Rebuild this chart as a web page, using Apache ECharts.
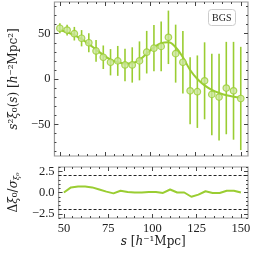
<!DOCTYPE html>
<html><head><meta charset="utf-8">
<script src="https://cdn.jsdelivr.net/npm/echarts@6/dist/echarts.min.js"></script>
<style>html,body{margin:0;padding:0;background:#fff}#c{width:253px;height:253px}</style>
</head><body><div id="c"></div>
<script>
// separation s [h^-1 Mpc]
const sValues = [50,54,58,62,66,70,74,78,82,86,90,94,98,102,106,110,114,118,122,126,130,134,138,142,146,150];
// measured s^2 xi_0
const xiData = [56,54,50,45,40,31,24,18.5,20,15.5,15.5,20,29.6,34,36,46,28,18.5,-13,-14,-2,-17,-20,-10,-13,-21.5];
// 1-sigma errors
const xiErr = [5.5,6,7.5,9,10.5,12,13,14.5,16.5,18,19.5,21.5,23.5,25.5,27.5,29.5,32,34.5,37,40,42.5,45,48,51,54,57];
// best-fit model
const xiModel = [54,51.5,48.5,44,38.5,32.5,26.5,21.5,18.5,17,17.5,21,28,35,39.5,40.5,35,24,10,0,-7,-12,-15.5,-18,-19.5,-20.5];
// residual (data-model)/sigma
const resid = [0.0,0.6,0.7,0.7,0.6,0.35,0.1,-0.1,0.2,0.05,0.0,0.0,0.05,0.05,-0.05,0.35,0.0,0.0,-0.5,-0.25,0.15,-0.05,-0.05,0.2,0.2,0.0];
// tick labels
const xTicks = [50,75,100,125,150];
const xMinor = [50,55,60,65,70,75,80,85,90,95,100,105,110,115,120,125,130,135,140,145,150];
const yTopTicks = [-50,0,50];
const yTopMinor = [-80,-70,-60,-50,-40,-30,-20,-10,0,10,20,30,40,50,60,70,80];
const yBotTicks = [-2.5,0,2.5];
const yBotMinor = [-3,-2.5,-2,-1.5,-1,-0.5,0,0.5,1,1.5,2,2.5,3];
const dashLevels = [2,-2];

const green = '#9acd32';
const FONT = 'Liberation Serif';
const TFONT = 'DejaVu Serif';
const X_MIN = 47, X_MAX = 154;
const noLine = {show:false, onZero:false};

function xAxesFor(grid, labels) {
  const base = {type:'value', gridIndex:grid, min:X_MIN, max:X_MAX, splitLine:{show:false}, axisLine:noLine};
  const lab = {show:labels, customValues:xTicks, margin:4, color:'#222', fontFamily:FONT, fontSize:12.5};
  return [
    Object.assign({}, base, {position:'bottom', axisTick:{inside:true, length:4, customValues:xTicks, lineStyle:{color:'#444'}}, axisLabel:lab,
      name: labels ? '{i|s} [{i|h}⁻¹Mpc]' : '', nameLocation:'middle', nameGap:17,
      nameTextStyle:{fontFamily:TFONT, fontSize:12, color:'#222', rich:{i:{fontStyle:'italic', fontFamily:TFONT, fontSize:12, color:'#222'}}}}),
    Object.assign({}, base, {position:'bottom', axisTick:{inside:true, length:2, customValues:xMinor, lineStyle:{color:'#444'}}, axisLabel:{show:false}}),
    Object.assign({}, base, {position:'top', axisTick:{inside:true, length:4, customValues:xTicks, lineStyle:{color:'#444'}}, axisLabel:{show:false}}),
    Object.assign({}, base, {position:'top', axisTick:{inside:true, length:2, customValues:xMinor, lineStyle:{color:'#444'}}, axisLabel:{show:false}})
  ];
}
function yAxesFor(grid, min, max, major, minor, fmt, name, rich) {
  const base = {type:'value', gridIndex:grid, min:min, max:max, splitLine:{show:false}, axisLine:noLine};
  return [
    Object.assign({}, base, {position:'left', axisTick:{inside:true, length:4, customValues:major, lineStyle:{color:'#444'}},
      axisLabel:{customValues:major, margin:4, color:'#222', fontFamily:FONT, fontSize:12.5, formatter:fmt},
      name:name, nameLocation:'middle', nameGap:27, nameRotate:90,
      nameTextStyle:{fontFamily:TFONT, fontSize:12, color:'#222', rich:rich}}),
    Object.assign({}, base, {position:'left', axisTick:{inside:true, length:2, customValues:minor, lineStyle:{color:'#444'}}, axisLabel:{show:false}}),
    Object.assign({}, base, {position:'right', axisTick:{inside:true, length:4, customValues:major, lineStyle:{color:'#444'}}, axisLabel:{show:false}}),
    Object.assign({}, base, {position:'right', axisTick:{inside:true, length:2, customValues:minor, lineStyle:{color:'#444'}}, axisLabel:{show:false}})
  ];
}
const minus = v => (v < 0 ? '\u2212' : '') + Math.abs(v);
const minus1 = v => (v < 0 ? '\u2212' : '') + Math.abs(v).toFixed(1);
const richTop = {i:{fontStyle:'italic', fontFamily:TFONT, fontSize:12, color:'#222'}};
const richBot = {i:{fontStyle:'italic', fontFamily:TFONT, fontSize:12, color:'#222'}, sb:{fontStyle:'italic', fontFamily:TFONT, fontSize:8, color:'#222', padding:[6,0,0,0]}};

const chart = echarts.init(document.getElementById('c'), null, {renderer:'canvas'});
const errData = sValues.map((s,i) => [s, xiData[i]-xiErr[i], xiData[i]+xiErr[i]]);

chart.setOption({
  animation:false,
  backgroundColor:'#fff',
  title:{text:'BGS', left:208, top:9, padding:[4,4,3,4], borderColor:'#ccc', borderWidth:1, borderRadius:3,
    textStyle:{fontFamily:FONT, fontSize:10, fontWeight:'normal', color:'#222'}},
  grid:[
    {left:48, top:2, width:200, height:154, show:true, borderColor:'#999', borderWidth:1.2, backgroundColor:'transparent'},
    {left:48, top:167, width:200, height:51, show:true, borderColor:'#999', borderWidth:1.2, backgroundColor:'transparent'}
  ],
  xAxis: xAxesFor(0,false).concat(xAxesFor(1,true)),
  yAxis: yAxesFor(0,-85,85,yTopTicks,yTopMinor,minus,'{i|s}²{i|ξ}₀({i|s}) [{i|h}⁻²Mpc²]',richTop)
    .concat(yAxesFor(1,-3,3,yBotTicks,yBotMinor,minus1,'Δ{i|ξ}₀/{i|σ}{sb|ξ₀}',richBot)),
  series:[
    {type:'custom', xAxisIndex:0, yAxisIndex:0, clip:true, data:errData, z:2,
      renderItem:function(params, api){
        const p1 = api.coord([api.value(0), api.value(1)]);
        const p2 = api.coord([api.value(0), api.value(2)]);
        return {type:'line', shape:{x1:p1[0], y1:p1[1], x2:p2[0], y2:p2[1]}, style:{stroke:green, lineWidth:1.6}};
      }},
    {type:'line', xAxisIndex:0, yAxisIndex:0, smooth:0.4, showSymbol:false, data:sValues.map((s,i)=>[s,xiModel[i]]),
      lineStyle:{color:green, width:2}, z:3},
    {type:'scatter', xAxisIndex:0, yAxisIndex:0, symbol:'circle', symbolSize:6.5, data:sValues.map((s,i)=>[s,xiData[i]]),
      itemStyle:{color:'#cbe69a', borderColor:green, borderWidth:1.2}, z:4},
    {type:'line', xAxisIndex:4, yAxisIndex:4, showSymbol:false, data:sValues.map((s,i)=>[s,resid[i]]),
      lineStyle:{color:green, width:2}, z:3,
      markLine:{silent:true, symbol:'none', label:{show:false}, lineStyle:{color:'#222', type:[3,2], width:1},
        data:dashLevels.map(v=>({yAxis:v}))}}
  ]
});
</script></body></html>
